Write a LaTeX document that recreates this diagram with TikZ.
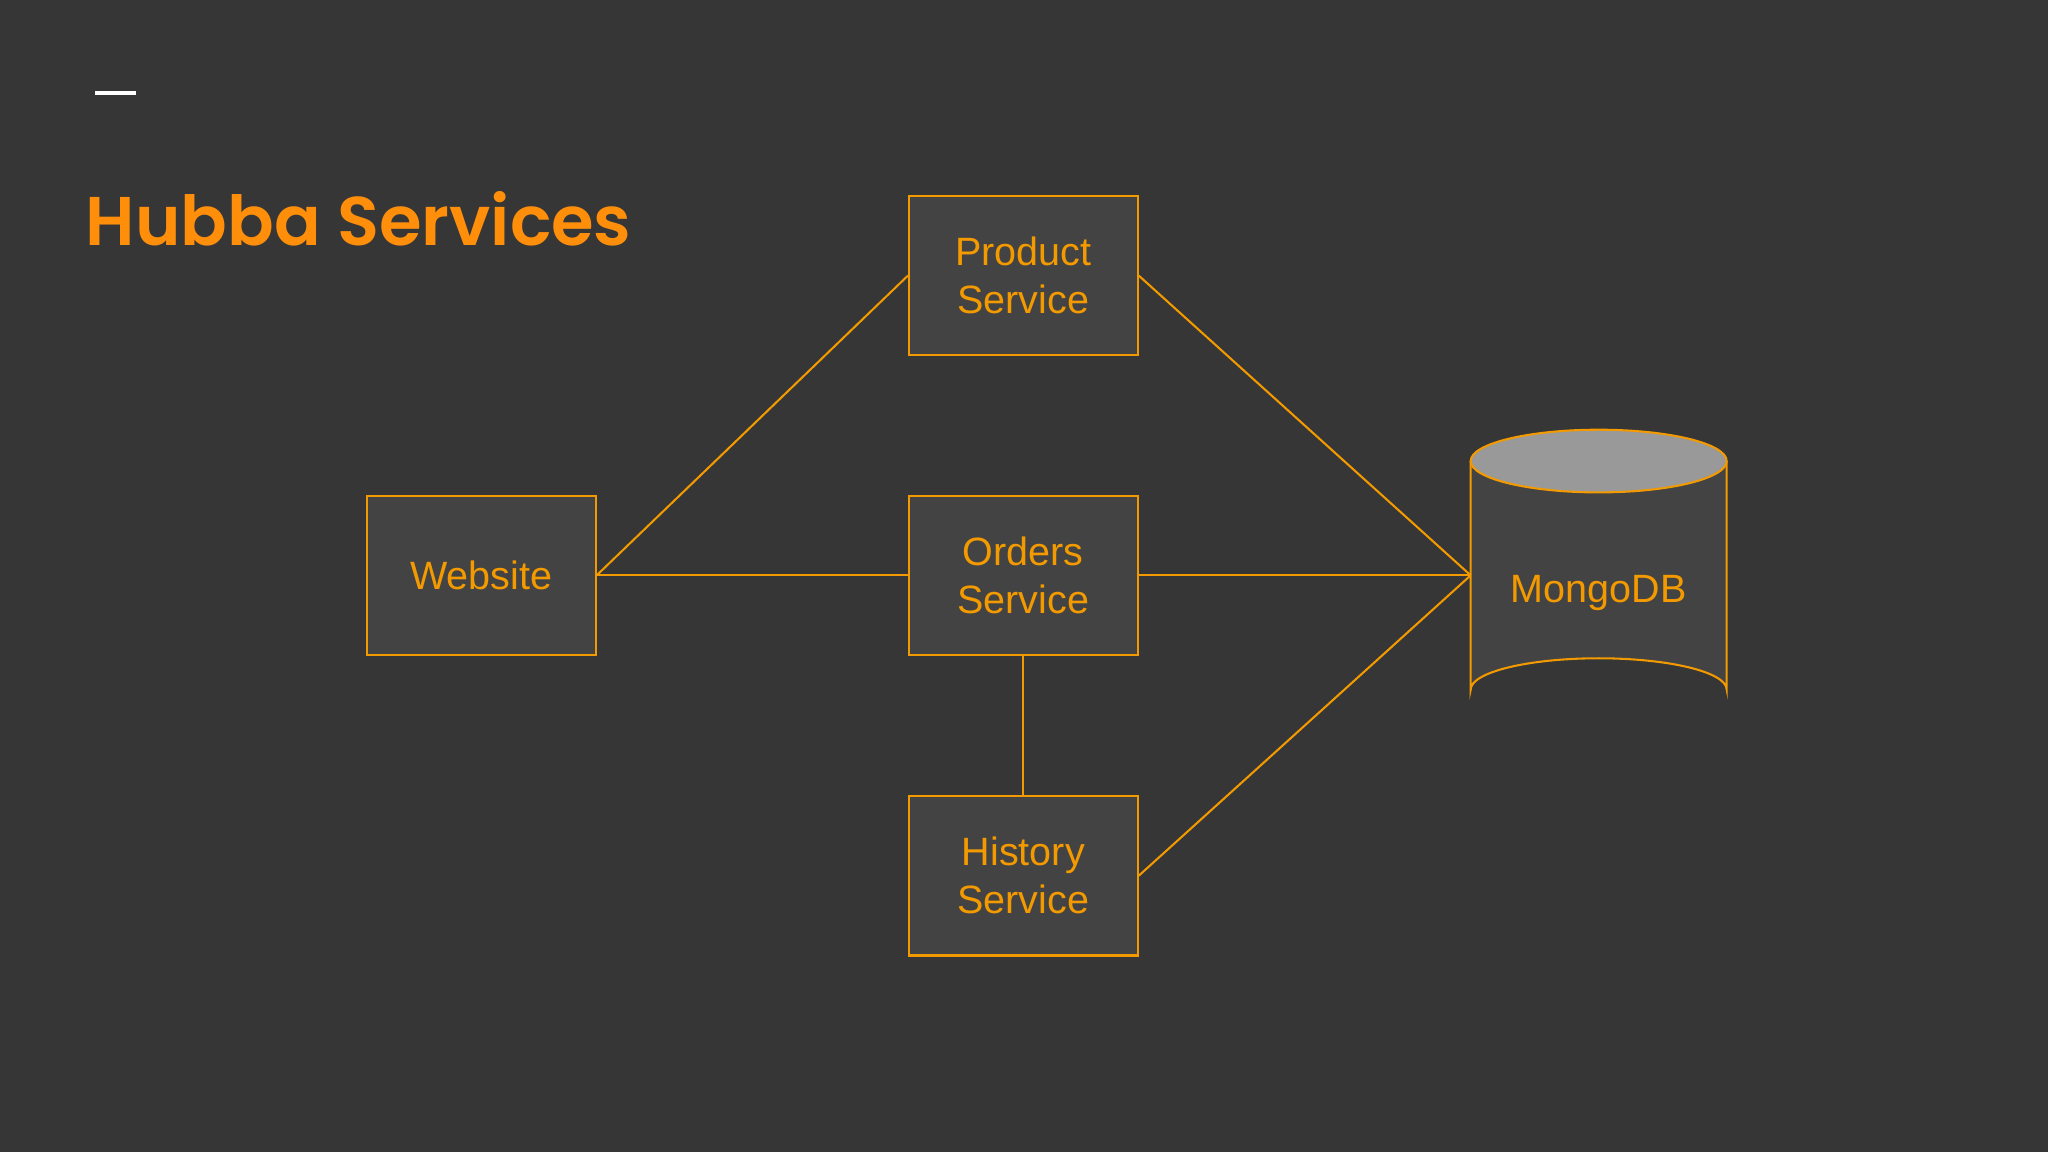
\documentclass[tikz,border=0pt]{standalone}
\usepackage{fontspec}
\setmainfont{Liberation Sans}
\newfontfamily\titlefont{Poppins SemiBold}
\definecolor{bg}{HTML}{363636}
\definecolor{boxfill}{HTML}{434343}
\definecolor{org}{HTML}{F29A00}
\definecolor{ttl}{HTML}{FF8F0A}
\definecolor{cyltop}{HTML}{999999}
\begin{document}
\begin{tikzpicture}[x=0.01cm,y=-0.01cm,
  box/.style={draw=org,fill=boxfill,line width=0.45pt,minimum width=1.75cm,minimum height=1.22cm,inner sep=0pt,align=center,text=org,font=\fontsize{8.6}{10.4}\selectfont},
  link/.style={draw=org,line width=0.45pt}]
\fill[bg] (0,0) rectangle (1568,882);
\useasboundingbox (0,0) rectangle (1568,882);
\draw[white,line width=0.9pt] (73,71) -- (104,71);
\node[anchor=base west,inner sep=0pt,text=ttl,font=\titlefont\fontsize{15}{18}\selectfont] (title) at (65,188) {Hubba Services};
\node[box] (web) at (368.5,440.5) {Website};
\node[box] (prod) at (783.5,211) {Product\\Service};
\node[box] (ord) at (783.5,440.5) {Orders\\Service};
\node[box] (hist) at (783.5,670.5) {History\\Service};
% cylinder
\draw[org,fill=boxfill,line width=0.45pt] (1126,353) -- (1126,528) arc[start angle=180,end angle=360,x radius=98,y radius=24] -- (1322,353);
\draw[org,fill=cyltop,line width=0.45pt] (1224,353) ellipse[x radius=98,y radius=24];
\node[text=org,font=\fontsize{8.6}{10.4}\selectfont] (mongo) at (1224,454) {MongoDB};
\coordinate (m) at (1126,440.5);
\draw[link] (web.east) -- (prod.west);
\draw[link] (web.east) -- (ord.west);
\draw[link] (prod.east) -- (m);
\draw[link] (ord.east) -- (m);
\draw[link] (hist.east) -- (m);
\draw[link] (ord.south) -- (hist.north);
\end{tikzpicture}
\end{document}
